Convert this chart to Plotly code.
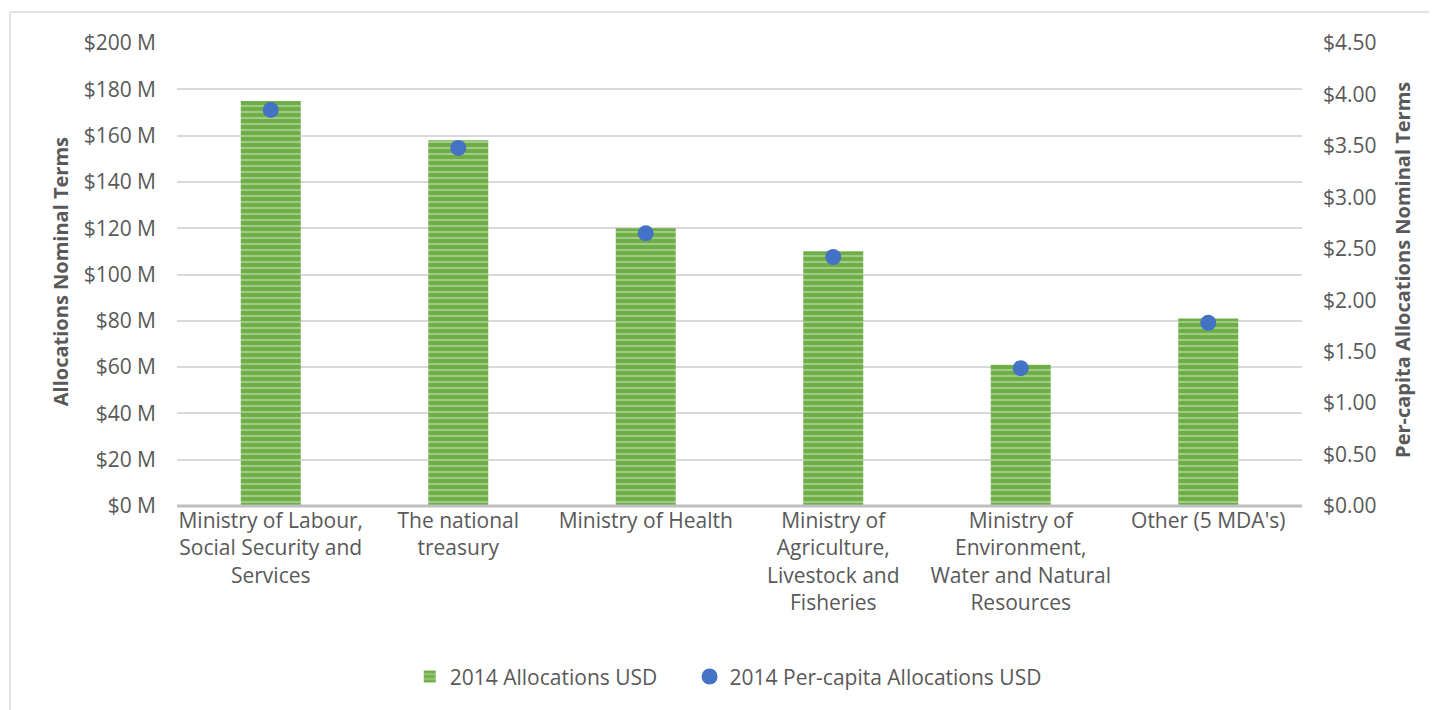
import plotly.graph_objects as go

categories = [
    "Ministry of Labour,<br>Social Security and<br>Services",
    "The national<br>treasury",
    "Ministry of Health",
    "Ministry of<br>Agriculture,<br>Livestock and<br>Fisheries",
    "Ministry of<br>Environment,<br>Water and Natural<br>Resources",
    "Other (5 MDA's)",
]
allocations_musd = [175, 158, 120, 110, 61, 81]
per_capita_usd = [3.85, 3.48, 2.65, 2.42, 1.34, 1.78]

left_ticks = list(range(0, 201, 20))
left_labels = [f"${v} M" for v in left_ticks]
right_ticks = [i * 0.5 for i in range(10)]
right_labels = [f"${v:.2f}" for v in right_ticks]

FONT = "Open Sans"
GRAY = "#595959"
FS = 21

fig = go.Figure()
fig.add_trace(go.Bar(
    x=categories, y=allocations_musd, name="2014 Allocations USD" + "\u00a0" * 5,
    width=0.32,
    marker=dict(color="#6FAD46", line=dict(width=0),
                pattern=dict(shape="-", fgcolor="#D3E8C5", bgcolor="#6FAD46",
                             size=6, solidity=0.35)),
    yaxis="y",
))
fig.add_trace(go.Scatter(
    x=categories, y=per_capita_usd, name="2014 Per-capita Allocations USD",
    mode="markers", marker=dict(color="#4472C4", size=16),
    yaxis="y2",
))

fig.update_layout(
    width=1429, height=702,
    margin=dict(l=169, r=135, t=35, b=204),
    paper_bgcolor="white", plot_bgcolor="white",
    font=dict(family=FONT, size=FS, color=GRAY),
    bargap=0.68,
    showlegend=True,
    legend=dict(orientation="h", x=0.49, xanchor="center", y=-0.369, yanchor="middle",
                font=dict(size=FS, color=GRAY), itemwidth=30, tracegroupgap=0),
    xaxis=dict(showgrid=False, showline=False, ticks="", tickfont=dict(size=FS, color=GRAY)),
    yaxis=dict(range=[0, 200], tickvals=left_ticks, ticktext=left_labels,
               showgrid=True, gridcolor="#D9D9D9", gridwidth=1.5,
               zeroline=False, showline=False, ticks="",
               ticklabelstandoff=20, tickfont=dict(size=FS, color=GRAY)),
    yaxis2=dict(range=[0, 4.5], tickvals=right_ticks, ticktext=right_labels,
                overlaying="y", side="right", showgrid=False, zeroline=False,
                showline=False, ticks="", ticklabelstandoff=20,
                tickfont=dict(size=FS, color=GRAY)),
    shapes=[
        dict(type="line", xref="paper", yref="paper", x0=0, x1=1, y0=0, y1=0,
             line=dict(color="#BFBFBF", width=3)),
        dict(type="line", xref="paper", yref="paper", x0=-0.1484, x1=1.2, y0=1.067, y1=1.067,
             line=dict(color="#D9D9D9", width=1.5)),
        dict(type="line", xref="paper", yref="paper", x0=-0.1484, x1=-0.1484, y0=1.067, y1=-0.45,
             line=dict(color="#D9D9D9", width=1.5)),
    ],
    annotations=[
        dict(text="<b>Allocations Nominal Terms</b>", xref="paper", yref="paper",
             x=-0.104, y=0.505, textangle=-90, showarrow=False,
             font=dict(size=20, color=GRAY), xanchor="center", yanchor="middle"),
        dict(text="<b>Per-capita Allocations Nominal Terms</b>", xref="paper", yref="paper",
             x=1.0898, y=0.51, textangle=-90, showarrow=False,
             font=dict(size=20, color=GRAY), xanchor="center", yanchor="middle"),
    ],
)

fig.write_html("out.html")
